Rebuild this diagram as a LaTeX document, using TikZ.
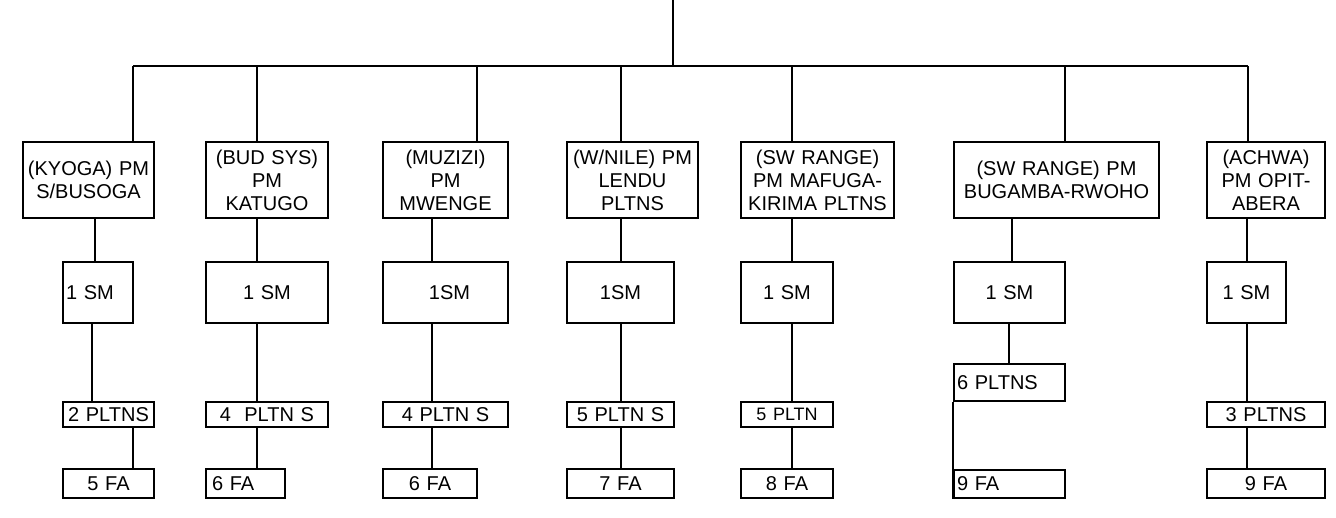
\documentclass[tikz,border=0pt]{standalone}
\usepackage{fontspec}
\setmainfont{Liberation Sans}
\newcommand{\obox}[7]{%
  \pgfmathsetmacro\obw{#4-#2}\pgfmathsetmacro\obh{#5-#3}\pgfmathsetmacro\otw{#4-#2-6}%
  \node[bx, minimum width=\obw pt, minimum height=\obh pt, text width=\otw pt, align=#6] (#1) at ({(#2+#4)/2},{(#3+#5)/2}) {#7};}
\begin{document}
\begin{tikzpicture}[x=1pt,y=-1pt,
  bx/.style={draw=black, line width=1.6pt, inner xsep=3pt, inner ysep=0pt, font=\fontsize{20}{23}\selectfont},
  conn/.style={draw=black, line width=1.6pt}]
\useasboundingbox (0,0) rectangle (1336,517);
% level 1 boxes
\obox{b1}{23}{142}{154}{218}{center}{(KYOGA) PM\\S/BUSOGA}
\obox{b2}{206}{142}{328}{218}{center}{(BUD SYS)\\PM\\KATUGO}
\obox{b3}{383}{142}{508}{218}{center}{(MUZIZI)\\PM\\MWENGE}
\obox{b4}{567}{142}{698}{218}{center}{(W/NILE) PM\\LENDU\\PLTNS}
\obox{b5}{741}{142}{894}{218}{center}{(SW RANGE)\\PM MAFUGA-\\KIRIMA PLTNS}
\obox{b6}{954}{142}{1159}{218}{center}{(SW RANGE) PM\\BUGAMBA-RWOHO}
\obox{b7}{1207}{142}{1325}{218}{center}{(ACHWA)\\PM OPIT-\\ABERA}
% SM boxes
\obox{s1}{63}{262}{133}{323}{left}{1 SM}
\obox{s2}{206}{262}{328}{323}{center}{1 SM}
\obox{s3}{383}{262}{508}{323}{center}{\hspace*{8pt}1SM}
\obox{s4}{567}{262}{674}{323}{center}{1SM}
\obox{s5}{741}{262}{833}{323}{center}{1 SM}
\obox{s6}{954}{262}{1065}{323}{center}{1 SM}
\obox{s7}{1207}{262}{1286}{323}{center}{1 SM}
% PLTN boxes
\obox{p1}{63}{402}{154}{427}{center}{2 PLTNS}
\obox{p2}{206}{402}{328}{427}{center}{4\ \ PLTN S}
\obox{p3}{383}{402}{508}{427}{center}{4 PLTN S}
\obox{p4}{567}{402}{674}{427}{center}{5 PLTN S}
\obox{p5}{741}{402}{833}{427}{center}{\fontsize{18}{20}\selectfont 5 PLTN}
\obox{p6}{954}{364}{1065}{401}{left}{6 PLTNS}
\obox{p7}{1207}{402}{1325}{427}{center}{3 PLTNS}
% FA boxes
\obox{f1}{63}{469}{154}{498}{center}{5 FA}
\obox{f2}{206}{469}{285}{498}{left}{\hspace*{3pt}6 FA}
\obox{f3}{383}{469}{477}{498}{center}{6 FA}
\obox{f4}{567}{469}{674}{498}{center}{7 FA}
\obox{f5}{741}{469}{833}{498}{center}{8 FA}
\obox{f6}{954}{470}{1065}{498}{left}{9 FA}
\obox{f7}{1207}{469}{1325}{498}{center}{9 FA}
% top tree
\coordinate (top) at (673,0);
\coordinate (bar) at (673,66);
\coordinate (barL) at (133,66);
\coordinate (barR) at (1248,66);
\draw[conn] (top) -- (bar);
\draw[conn] (barL) -- (barR);
\foreach \n/\xx in {b1/133,b2/257,b3/477,b4/621,b5/792,b6/1065,b7/1248}{
  \coordinate (d\n) at (\xx,66);
  \draw[conn] (d\n) -- (\n.north -| d\n);
}
% column connectors
\coordinate (c1a) at (95,0);
\coordinate (c1b) at (92,0);
\coordinate (c1c) at (133,0);
\draw[conn] (b1.south -| c1a) -- (s1.north -| c1a);
\draw[conn] (s1.south -| c1b) -- (p1.north -| c1b);
\draw[conn] (p1.south -| c1c) -- (f1.north -| c1c);
\foreach \i/\xx in {2/257,3/432,4/621,5/792,7/1247}{
  \coordinate (cc\i) at (\xx,0);
  \draw[conn] (b\i.south -| cc\i) -- (s\i.north -| cc\i);
  \draw[conn] (s\i.south -| cc\i) -- (p\i.north -| cc\i);
  \draw[conn] (p\i.south -| cc\i) -- (f\i.north -| cc\i);
}
\coordinate (c6a) at (1012,0);
\coordinate (c6b) at (1009,0);
\draw[conn] (b6.south -| c6a) -- (s6.north -| c6a);
\draw[conn] (s6.south -| c6b) -- (p6.north -| c6b);
\draw[conn] (p6.south west) -- (f6.south west);
\end{tikzpicture}
\end{document}
